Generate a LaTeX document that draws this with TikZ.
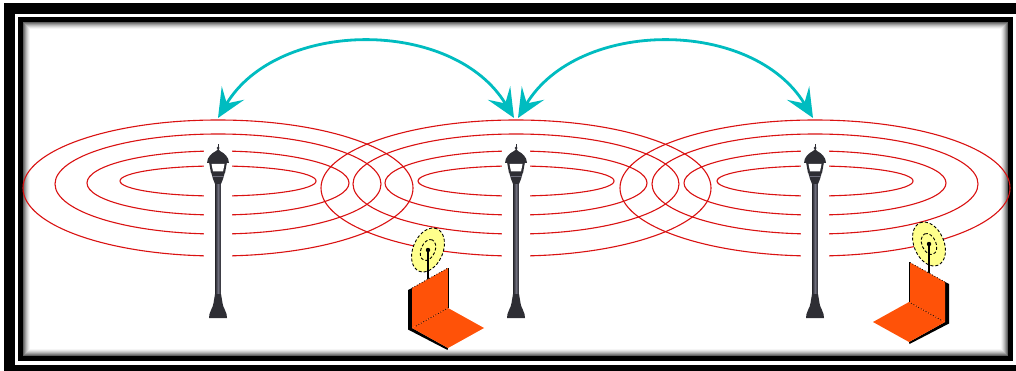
\documentclass[tikz,border=0pt]{standalone}
\usetikzlibrary{arrows.meta}

\definecolor{wavered}{RGB}{218,18,18}
\definecolor{linkcyan}{RGB}{0,188,192}
\definecolor{laptoporange}{RGB}{255,82,8}
\definecolor{dishyellow}{RGB}{255,255,140}
\definecolor{lampdark}{RGB}{46,46,52}
\definecolor{lampmid}{RGB}{110,110,124}

\tikzset{
  wave/.style={draw=wavered, line width=1.1pt},
  linkarrow/.style={draw=linkcyan, line width=2.8pt,
    {Stealth[length=29pt,width=26pt,inset=12pt]}-{Stealth[length=29pt,width=26pt,inset=12pt]}},
  dish/.style={fill=dishyellow, draw=black, line width=0.9pt, dash pattern=on 3pt off 2pt},
  dishring/.style={draw=black, line width=0.9pt, dash pattern=on 3pt off 2pt},
  % street lamp, origin on the ground line at x of the pole
  lamp/.pic={
    % clear the radio rings around the post
    \fill[white] (-14,140) rectangle (14,262);
    % pole
    \shade[left color=lampdark, right color=lampdark, middle color=lampmid] (-2.6,182) rectangle (2.6,300);
    % foot
    \fill[lampdark] (-3,294) -- (-4.5,303) .. controls (-5,308) and (-8,310) .. (-8.5,314)
      -- (-9,318) -- (9,318) -- (8.5,314) .. controls (8,310) and (5,308) .. (4.5,303) -- (3,294) -- cycle;
    % collar below the lantern
    \fill[lampdark] (-7,172) -- (7,172) -- (5,179) -- (3,184) -- (-3,184) -- (-5,179) -- cycle;
    \draw[lampmid, line width=0.8pt] (-6,176) -- (6,176);
    % lantern
    \fill[lampdark] (-9,162) -- (9,162) -- (7,173) -- (-7,173) -- cycle;
    \fill[white] (-6.5,164) -- (6.5,164) -- (5,171.5) -- (-5,171.5) -- cycle;
    % dome
    \fill[lampdark] (-11,163) .. controls (-11,157) and (-6,153) .. (-2,151) -- (0,149)
      -- (2,151) .. controls (6,153) and (11,157) .. (11,163) -- cycle;
    % finial
    \draw[lampdark, line width=1pt] (0,151) -- (0,144);
    \fill[lampdark] (0,148) circle (1.5pt);
  },
  % laptop with antenna, origin at the low end of the screen's top edge
  laptop/.pic={
    \draw[dish, rotate around={67:(16,-38)}] (16,-38) ellipse [x radius=23pt, y radius=15pt];
    \draw[dishring, rotate around={67:(16,-38)}] (16,-38) ellipse [x radius=11pt, y radius=7pt];
    \fill (16,-38) circle (2.2pt);
    \draw[black, line width=1.1pt] (16,-38) -- (16,-9);
    % body edge
    \fill[black] (-4,2) -- (0,0) -- (0,40) -- (36,60) -- (35.5,62) -- (-4,41.5) -- cycle;
    % screen and keyboard
    \fill[laptoporange] (0,0) -- (36,-20) -- (36,20) -- (0,40) -- cycle;
    \fill[laptoporange] (0,40) -- (36,20) -- (72,40) -- (36,60) -- cycle;
    \draw[black, line width=0.8pt, dotted] (0,0) -- (36,-20);
    \draw[black, line width=0.8pt] (36,-20) -- (36,20);
    \draw[black, line width=0.8pt, dotted] (4,38) -- (36,20);
  }
}

\begin{document}
\begin{tikzpicture}[x=1pt,y=-1pt]
  \useasboundingbox (0,0) rectangle (1016,371);
  \clip (0,0) rectangle (1016,371);
  \fill[white] (0,0) rectangle (1016,371);

  % frame
  \draw[line width=11pt] (9.5,8.5) rectangle (1030,370.5);
  \draw[line width=5pt] (20.5,19.5) rectangle (1010.5,358.5);
  \foreach \k/\g in {1/62,2/50,3/38,4/27,5/18,6/10,7/4} {
    \draw[black!\g, line width=1pt] (22.5+\k,21.5+\k) rectangle (1008.5-\k,356.5-\k);
  }

  % positions
  \coordinate (lamp1) at (218,0);
  \coordinate (lamp2) at (516,0);
  \coordinate (lamp3) at (815,0);
  \coordinate (lap1) at (412,288);
  \coordinate (lap2) at (945,282);

  % radio rings around each lamp
  \foreach \cx in {218,516,815} {
    \draw[wave] (\cx,188) ellipse [x radius=195pt, y radius=68pt];
    \draw[wave] (\cx,184) ellipse [x radius=163pt, y radius=50pt];
    \draw[wave] (\cx,183) ellipse [x radius=131pt, y radius=32pt];
    \draw[wave] (\cx,181) ellipse [x radius=98pt, y radius=15pt];
  }

  % lamps
  \pic at (lamp1) {lamp};
  \pic at (lamp2) {lamp};
  \pic at (lamp3) {lamp};

  % laptops
  \pic at (lap1) {laptop};
  \pic[xscale=-1] at (lap2) {laptop};

  % links between the lamps
  \coordinate (tipL) at (218,118);
  \coordinate (tipM1) at (514,118);
  \coordinate (tipM2) at (518,118);
  \coordinate (tipR) at (813,118);
  \draw[linkarrow] (tipM1) .. controls +(-60,-100) and +(60,-100) .. (tipL);
  \draw[linkarrow] (tipM2) .. controls +(60,-100) and +(-60,-100) .. (tipR);
\end{tikzpicture}
\end{document}
